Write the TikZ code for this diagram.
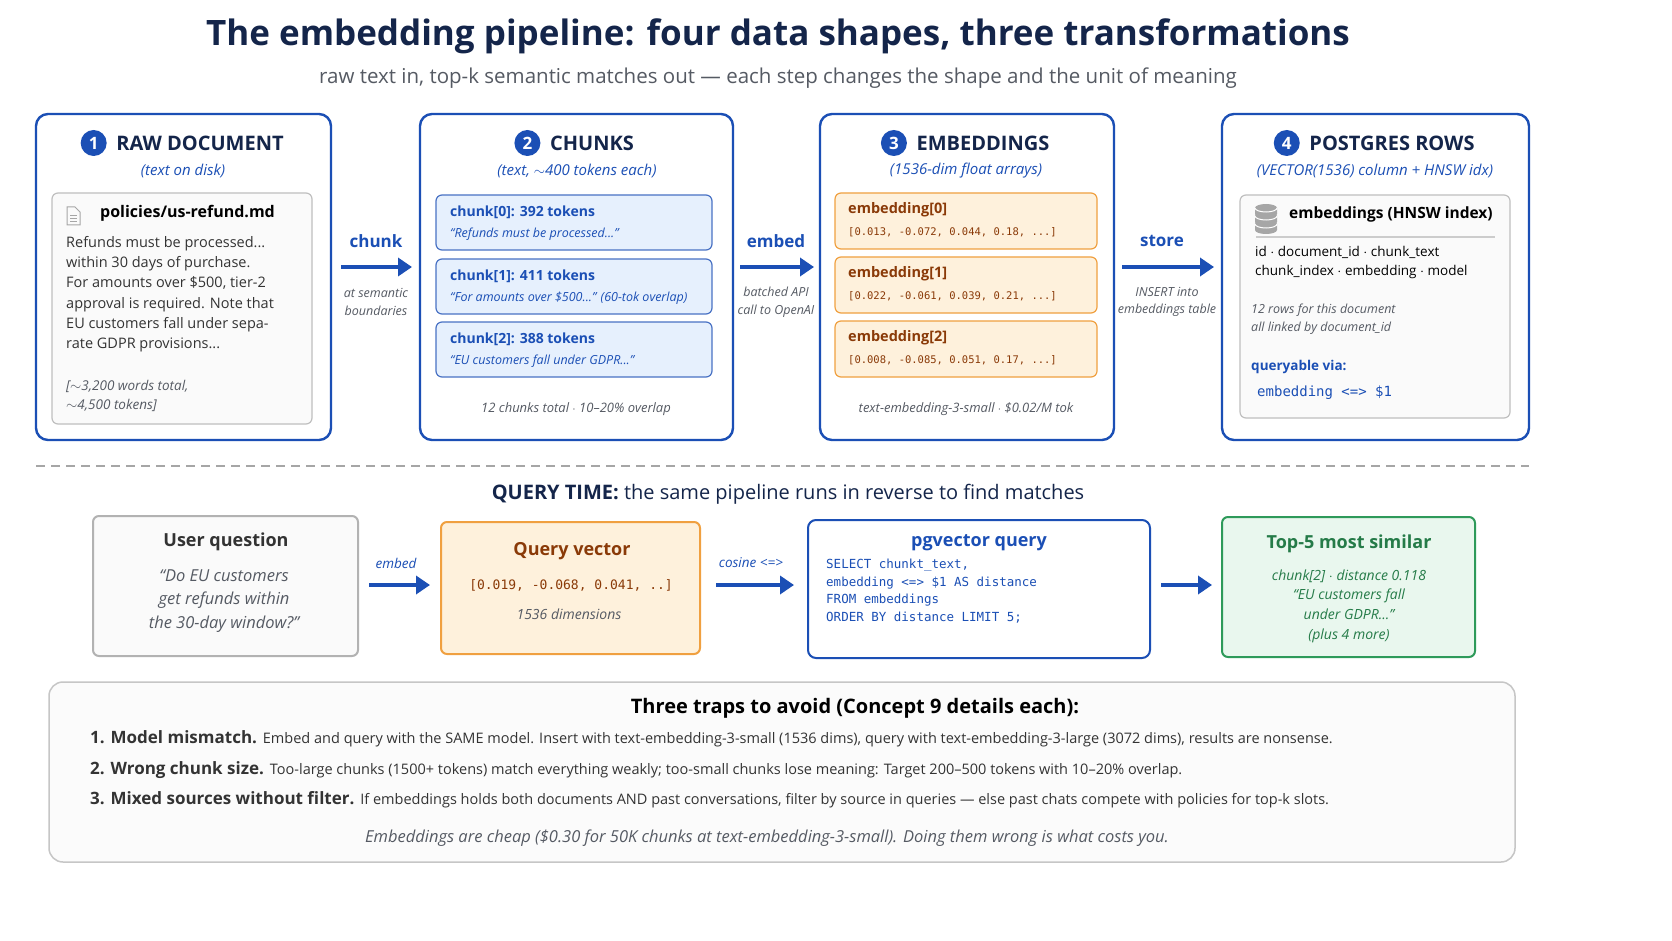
\documentclass[tikz,border=0pt]{standalone}
\usepackage{fontspec}
\setmainfont{Open Sans}
\setmonofont{DejaVu Sans Mono}
\usetikzlibrary{positioning, arrows.meta, shapes.geometric, calc}

\definecolor{navy}{HTML}{14254A}
\definecolor{blu}{HTML}{1B4FB5}
\definecolor{bluefill}{HTML}{E6F0FD}
\definecolor{orng}{HTML}{F0A040}
\definecolor{orngfill}{HTML}{FEF1DC}
\definecolor{brwn}{HTML}{8A3A08}
\definecolor{grn}{HTML}{2E9A5A}
\definecolor{grnfill}{HTML}{E9F7EE}
\definecolor{gry}{HTML}{555A63}

\tikzset{
    fs/.style={node font=\fontsize{#1}{\dimexpr #1pt*14/10\relax}\selectfont},
    panel/.style={draw=blu, line width=2.4pt, rounded corners=12pt, fill=white},
    inner/.style={draw=gray!50, line width=1.2pt, rounded corners=6pt, fill=gray!4},
    chunkbox/.style={draw=blu!80, line width=1.2pt, rounded corners=6pt, fill=bluefill},
    embbox/.style={draw=orng, line width=1.2pt, rounded corners=6pt, fill=orngfill},
    flow/.style={-{Triangle[length=14pt,width=18pt]}, blu, line width=3.5pt},
    numdot/.style={circle, fill=blu, text=white, inner sep=0pt, minimum size=26pt, font=\fontsize{17}{20}\selectfont\bfseries},
    hdr/.style={text=navy, font=\fontsize{20}{24}\selectfont\bfseries},
    sub/.style={text=blu, font=\fontsize{15}{20}\selectfont\itshape},
    lbl/.style={text=blu, font=\fontsize{17}{20}\selectfont\bfseries},
    note/.style={text=gry, fs=12.5, font=\itshape, align=center},
    txt/.style={align=left, anchor=north west, inner sep=0pt},
}

\begin{document}
\begin{tikzpicture}[x=1pt, y=-1pt]
    \fill[white] (0,0) rectangle (1672,941);
    % Title
    \node[text=navy, font=\fontsize{35}{42}\selectfont\bfseries] (title) at (778,36) {The embedding pipeline: four data shapes, three transformations};
    \node[text=gry, fs=20.5] (subtitle) at (778,78) {raw text in, top-k semantic matches out --- each step changes the shape and the unit of meaning};

    % Panel 1: raw document
    \draw[panel] (36,114) rectangle (331,440);
    \node[hdr] (h1) at (200,143) {RAW DOCUMENT};
    \node[numdot, left=6pt of h1] (n1) {1};
    \node[sub] (s1) at (183,171) {(text on disk)};
    \draw[inner] (52,193) rectangle (312,424);
    \draw[gray!70, line width=1pt] (67,207) -- (75,207) -- (80,212) -- (80,225) -- (67,225) -- cycle;
    \draw[gray!70, line width=0.8pt] (70,215) -- (77,215) (70,218) -- (77,218) (70,221) -- (77,221);
    \node[txt, fs=16, font=\bfseries, text=black] (fname) at (100,205) {policies/us-refund.md};
    \node[txt, fs=14.5, text=black!80] (doctext) at (66,236) {Refunds must be processed...\\within 30 days of purchase.\\For amounts over \$500, tier-2\\approval is required. Note that\\EU customers fall under sepa-\\rate GDPR provisions...};
    \node[txt, fs=13.5, font=\itshape, text=gry] (doctot) at (66,380) {[$\sim$3,200 words total,\\$\sim$4,500 tokens]};

    % Panel 2: chunks
    \draw[panel] (420,114) rectangle (733,440);
    \node[hdr] (h2) at (592,143) {CHUNKS};
    \node[numdot, left=6pt of h2] (n2) {2};
    \node[sub] (s2) at (577,171) {(text, $\sim$400 tokens each)};
    \foreach \i/\y/\tok/\q in {0/195/392/{``Refunds must be processed...''},
                               1/259/411/{``For amounts over \$500...'' (60-tok overlap)},
                               2/322/388/{``EU customers fall under GDPR...''}} {
        \draw[chunkbox] (436,\y) rectangle (712,\y+55);
        \node[txt, fs=14, text=blu, font=\bfseries] (c\i) at (450,\y+11) {chunk[\i]: \tok\ tokens};
        \node[txt, fs=12.5, text=blu, font=\itshape] (cq\i) at (450,\y+33) {\q};
    }
    \node[note, fs=13] (ctot) at (576,409) {12 chunks total $\cdot$ 10--20\% overlap};

    % Panel 3: embeddings
    \draw[panel] (820,114) rectangle (1114,440);
    \node[hdr] (h3) at (983,143) {EMBEDDINGS};
    \node[numdot, left=6pt of h3] (n3) {3};
    \node[sub] (s3) at (966,171) {(1536-dim float arrays)};
    \foreach \i/\y/\vec in {0/193/{[0.013, -0.072, 0.044, 0.18, ...]},
                            1/257/{[0.022, -0.061, 0.039, 0.21, ...]},
                            2/321/{[0.008, -0.085, 0.051, 0.17, ...]}} {
        \draw[embbox] (835,\y) rectangle (1097,\y+56);
        \node[txt, fs=14.5, text=brwn, font=\bfseries] (e\i) at (848,\y+9) {embedding[\i]};
        \node[txt, fs=10.5, text=brwn, font=\ttfamily] (ev\i) at (848,\y+34) {\vec};
    }
    \node[note, fs=13] (etot) at (966,409) {text-embedding-3-small $\cdot$ \$0.02/M tok};

    % Panel 4: postgres rows
    \draw[panel] (1222,114) rectangle (1529,440);
    \node[hdr] (h4) at (1392,143) {POSTGRES ROWS};
    \node[numdot, left=6pt of h4] (n4) {4};
    \node[sub] (s4) at (1375,171) {(VECTOR(1536) column + HNSW idx)};
    \draw[inner] (1240,195) rectangle (1510,418);
    \foreach \yy in {224,216,208} {
        \fill[gray!70] (1266,\yy) ellipse (11pt and 4pt) ++(-11,0) rectangle ++(22,6);
        \fill[gray!70] (1266,\yy+6) ellipse (11pt and 4pt);
        \draw[white, line width=1pt] (1255,\yy) arc (180:360:11pt and 4pt);
    }
    \node[txt, fs=15.5, font=\bfseries, text=black] (dbname) at (1289,207) {embeddings (HNSW index)};
    \draw[gray!40, line width=1.2pt] (1256,237) -- (1495,237);
    \node[txt, fs=13.5, text=black] (cols) at (1255,246) {id $\cdot$ document\_id $\cdot$ chunk\_text\\chunk\_index $\cdot$ embedding $\cdot$ model};
    \node[txt, fs=12.5, font=\itshape, text=gry] (rows) at (1251,304) {12 rows for this document\\all linked by document\_id};
    \node[txt, fs=13.5, font=\bfseries, text=blu] (qv) at (1251,360) {queryable via:};
    \node[txt, fs=14, font=\ttfamily, text=blu] (qop) at (1257,386) {embedding <=> \$1};

    % Transformations
    \coordinate (a1s) at (341,267); \coordinate (a1e) at (412,267);
    \coordinate (a2s) at (740,267); \coordinate (a2e) at (814,267);
    \coordinate (a3s) at (1122,267); \coordinate (a3e) at (1214,267);
    \draw[flow] (a1s) -- (a1e);
    \draw[flow] (a2s) -- (a2e);
    \draw[flow] (a3s) -- (a3e);
    \node[lbl] (t1) at (376,241) {chunk};
    \node[lbl] (t2) at (776,241) {embed};
    \node[lbl] (t3) at (1162,241) {store};
    \node[note] (d1) at (376,302) {at semantic\\boundaries};
    \node[note] (d2) at (776,302) {batched API\\call to OpenAI};
    \node[note] (d3) at (1167,302) {INSERT into\\embeddings table};

    % Query time
    \draw[dashed, gray!70, line width=1.5pt, dash pattern=on 9pt off 6pt] (36,466) -- (1529,466);
    \node[text=navy, fs=20] (qt) at (788,494) {\textbf{QUERY TIME:} the same pipeline runs in reverse to find matches};

    \draw[inner, line width=2pt, draw=gray!60] (93,516) rectangle (358,656);
    \node[fs=18, text=black!80, font=\bfseries] (uq) at (226,542) {User question};
    \node[fs=16.5, text=gry, font=\itshape, align=center] (uqt) at (224,601) {``Do EU customers\\get refunds within\\the 30-day window?''};

    \draw[embbox, line width=2pt] (441,522) rectangle (700,654);
    \node[fs=18, text=brwn, font=\bfseries] (qvh) at (572,551) {Query vector};
    \node[fs=13, text=brwn, font=\ttfamily] (qvv) at (571,585) {[0.019, -0.068, 0.041, ..]};
    \node[fs=14, text=gry, font=\itshape] (qvd) at (569,614) {1536 dimensions};

    \draw[panel, line width=2pt, rounded corners=8pt] (808,520) rectangle (1150,658);
    \node[fs=18, text=blu, font=\bfseries] (pgh) at (979,543) {pgvector query};
    \node[txt, fs=12.5, text=blu, font=\ttfamily, align=left] (pgq) at (826,559) {SELECT chunkt\_text,\\embedding <=> \$1 AS distance\\FROM embeddings\\ORDER BY distance LIMIT 5;};

    \draw[inner, draw=grn, fill=grnfill, line width=2pt] (1222,517) rectangle (1475,657);
    \node[fs=18, text=grn!80!black, font=\bfseries] (top) at (1349,544) {Top-5 most similar};
    \node[fs=14, text=grn!80!black, font=\itshape, align=center] (topt) at (1349,606) {chunk[2] $\cdot$ distance 0.118\\``EU customers fall\\under GDPR...''\\(plus 4 more)};

    \coordinate (b1s) at (369,585); \coordinate (b1e) at (430,585);
    \coordinate (b2s) at (716,585); \coordinate (b2e) at (794,585);
    \coordinate (b3s) at (1161,585); \coordinate (b3e) at (1212,585);
    \draw[flow] (b1s) -- (b1e);
    \draw[flow] (b2s) -- (b2e);
    \draw[flow] (b3s) -- (b3e);
    \node[text=blu, fs=13.5, font=\itshape] (q1) at (396,563) {embed};
    \node[text=blu, fs=13.5, font=\itshape] (q2) at (751,563) {cosine <=>};

    % Traps
    \draw[inner, draw=gray!45, fill=gray!3, line width=1.5pt, rounded corners=14pt] (49,682) rectangle (1515,862);
    \node[text=black, fs=20, font=\bfseries] (tr) at (855,708) {Three traps to avoid (Concept 9 details each):};
    \node[txt, fs=14.5, text=black!80] (tr1) at (90,730) {\fontsize{17}{20}\selectfont\textbf{1. Model mismatch.} \fontsize{14.5}{20}\selectfont Embed and query with the SAME model. Insert with text-embedding-3-small (1536 dims), query with text-embedding-3-large (3072 dims), results are nonsense.};
    \node[txt, fs=14.5, text=black!80] (tr2) at (90,761) {\fontsize{17}{20}\selectfont\textbf{2. Wrong chunk size.} \fontsize{14.5}{20}\selectfont Too-large chunks (1500+ tokens) match everything weakly; too-small chunks lose meaning: Target 200--500 tokens with 10--20\% overlap.};
    \node[txt, fs=14.5, text=black!80] (tr3) at (90,791) {\fontsize{17}{20}\selectfont\textbf{3. Mixed sources without filter.} \fontsize{14.5}{20}\selectfont If embeddings holds both documents AND past conversations, filter by source in queries --- else past chats compete with policies for top-k slots.};
    \node[text=gry, fs=16.5, font=\itshape] (foot) at (767,838) {Embeddings are cheap (\$0.30 for 50K chunks at text-embedding-3-small). Doing them wrong is what costs you.};
    \pgfresetboundingbox
    \useasboundingbox (0,0) rectangle (1672,941);
\end{tikzpicture}
\end{document}
